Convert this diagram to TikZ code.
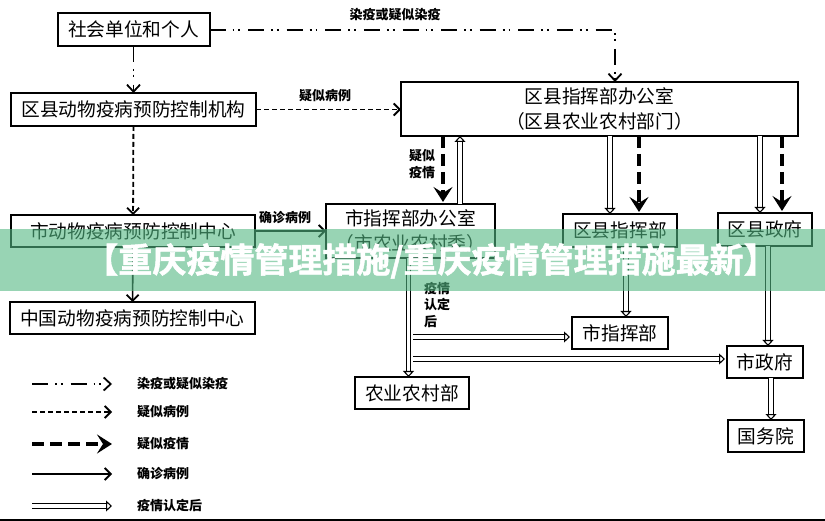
\documentclass[tikz,border=0pt]{standalone}
\usepackage{fontspec}
\setmainfont{Noto Sans CJK SC}
\newfontfamily\titlefont[FakeBold=1.5]{Noto Sans CJK SC Bold}
\usepackage{tikz}
\usetikzlibrary{arrows.meta,calc}
\definecolor{bannergreen}{RGB}{83,183,130}
\tikzset{
  boxnode/.style={draw,line width=2pt,inner sep=0pt,outer sep=0pt,align=center,font=\fontsize{18.7}{25}\selectfont},
  smalllabel/.style={inner sep=0pt,align=center,font=\fontsize{13}{16.5}\selectfont\bfseries},
  spreadline/.style={line width=1.8pt,dash pattern=on 16pt off 7pt on 1.8pt off 4pt on 1.8pt off 8pt,-{Straight Barb[length=7pt,width=13pt,line width=1.8pt]}},
  suspectline/.style={line width=1.8pt,dash pattern=on 5pt off 3pt,-{Straight Barb[length=6pt,width=12pt,line width=1.8pt]}},
  epidemicline/.style={line width=4pt,dash pattern=on 12pt off 6pt,-{Stealth[length=15pt,width=19pt,inset=6pt]}},
  confirmline/.style={line width=1.6pt,-{Straight Barb[length=6pt,width=12pt,line width=1.8pt]}},
  afterline/.style={line width=1.1pt,double,double distance=3.4pt,-{Triangle[length=6pt,width=11pt,fill=white,line width=1.1pt]}},
}
\begin{document}
\begin{tikzpicture}[x=1pt,y=-1pt]
\useasboundingbox (0,0) rectangle (825,521);
% main boxes
\node[boxnode,minimum width=152pt,minimum height=32.5pt] (society) at (133.5,29.7) {社会单位和个人};
\node[boxnode,minimum width=245pt,minimum height=33pt] (districtcdc) at (133.5,109.5) {区县动物疫病预防控制机构};
\node[boxnode,minimum width=244pt,minimum height=32pt] (citycdc) at (133,231) {市动物疫病预防控制中心};
\node[boxnode,minimum width=245.5pt,minimum height=32pt] (chinacdc) at (132.5,318) {中国动物疫病预防控制中心};
\node[boxnode,minimum width=397pt,minimum height=54pt] (districtoffice) at (599.5,109) {区县指挥部办公室\\（区县农业农村部门）};
\node[boxnode,minimum width=169pt,minimum height=54pt] (cityoffice) at (410.5,231) {市指挥部办公室\\（市农业农村委）};
\node[boxnode,minimum width=114pt,minimum height=33pt] (districthq) at (620,230.5) {区县指挥部};
\node[boxnode,minimum width=94pt,minimum height=33pt] (districtgov) at (765,229.5) {区县政府};
\node[boxnode,minimum width=96pt,minimum height=32pt] (cityhq) at (620,333) {市指挥部};
\node[boxnode,minimum width=76pt,minimum height=32pt] (citygov) at (765,362) {市政府};
\node[boxnode,minimum width=114pt,minimum height=32pt] (ministry) at (412,393) {农业农村部};
\node[boxnode,minimum width=76pt,minimum height=32pt] (council) at (766,436) {国务院};
% connectors
\draw[spreadline] (society) -- (districtcdc);
\coordinate (spreadcorner) at (615,29.7);
\draw[spreadline] (society.east) -- (spreadcorner) -- (spreadcorner |- districtoffice.north);
\draw[suspectline] (districtcdc.east) -- (districtcdc.east -| districtoffice.west);
\draw[suspectline] (districtcdc) -- (citycdc);
\draw[confirmline] (citycdc) -- (chinacdc);
\draw[confirmline] (citycdc.east) -- (cityoffice.west);
\draw[epidemicline] ([xshift=32.5pt]cityoffice.north |- districtoffice.south) -- ([xshift=32.5pt,yshift=2pt]cityoffice.north);
\draw[afterline] ([xshift=49.5pt]cityoffice.north) -- ([xshift=49.5pt]cityoffice.north |- districtoffice.south);
\draw[afterline] ([xshift=-10pt]districthq.north |- districtoffice.south) -- ([xshift=-10pt]districthq.north);
\draw[epidemicline] ([xshift=19pt]districthq.north |- districtoffice.south) -- ([xshift=19pt,yshift=2pt]districthq.north);
\draw[afterline] ([xshift=-5pt]districtgov.north |- districtoffice.south) -- ([xshift=-5pt]districtgov.north);
\draw[epidemicline] ([xshift=17pt]districtgov.north |- districtoffice.south) -- ([xshift=17pt,yshift=2pt]districtgov.north);
\draw[afterline] ([xshift=6pt]districthq.south) -- ([xshift=6pt]cityhq.north);
\draw[afterline] ([xshift=3pt]districtgov.south) -- ([xshift=3pt]districtgov.south |- citygov.north);
\draw[afterline] ([xshift=6pt]citygov.south) -- ([xshift=6pt]citygov.south |- council.north);
\draw[afterline] ([xshift=-2pt]cityoffice.south) -- ([xshift=-2pt]cityoffice.south |- ministry.north);
\coordinate (branchhq) at (413,337);
\coordinate (branchgov) at (413,359);
\draw[afterline,shorten >=2pt] (branchhq) -- (branchhq -| cityhq.west);
\draw[afterline,shorten >=2pt] (branchgov) -- (branchgov -| citygov.west);
% labels
\node[smalllabel] (spreadlabel) at (395,15) {染疫或疑似染疫};
\node[smalllabel] (suspectlabel) at (325,96) {疑似病例};
\node[smalllabel] (confirmlabel) at (285,218) {确诊病例};
\node[smalllabel] (epidemiclabel) at (422,164) {疑似\\疫情};
\node[smalllabel,align=left] (afterlabel) at (437,305) {疫情\\认定\\后};
% legend
\foreach \i/\sty/\txt/\yy in {1/spreadline/染疫或疑似染疫/384,2/suspectline/疑似病例/412,3/epidemicline/疑似疫情/444,4/confirmline/确诊病例/474,5/afterline/疫情认定后/506}{
  \coordinate (legstart\i) at (32,\yy);
  \coordinate (legend\i) at (112,\yy);
  \draw[\sty] (legstart\i) -- (legend\i);
  \node[smalllabel,anchor=west] (leglabel\i) at (137,\yy) {\txt};
}
\coordinate (rulestart) at (0,520);
\coordinate (ruleend) at (825,520);
\draw[line width=1.2pt] (rulestart) -- (ruleend);
% banner over everything
\fill[bannergreen,opacity=.6] (0,229) rectangle (825,291);
\node[inner sep=0pt,text=white,font=\fontsize{34}{38}\selectfont\titlefont] (title) at (431,261) {【重庆疫情管理措施/重庆疫情管理措施最新】};
\end{tikzpicture}
\end{document}
